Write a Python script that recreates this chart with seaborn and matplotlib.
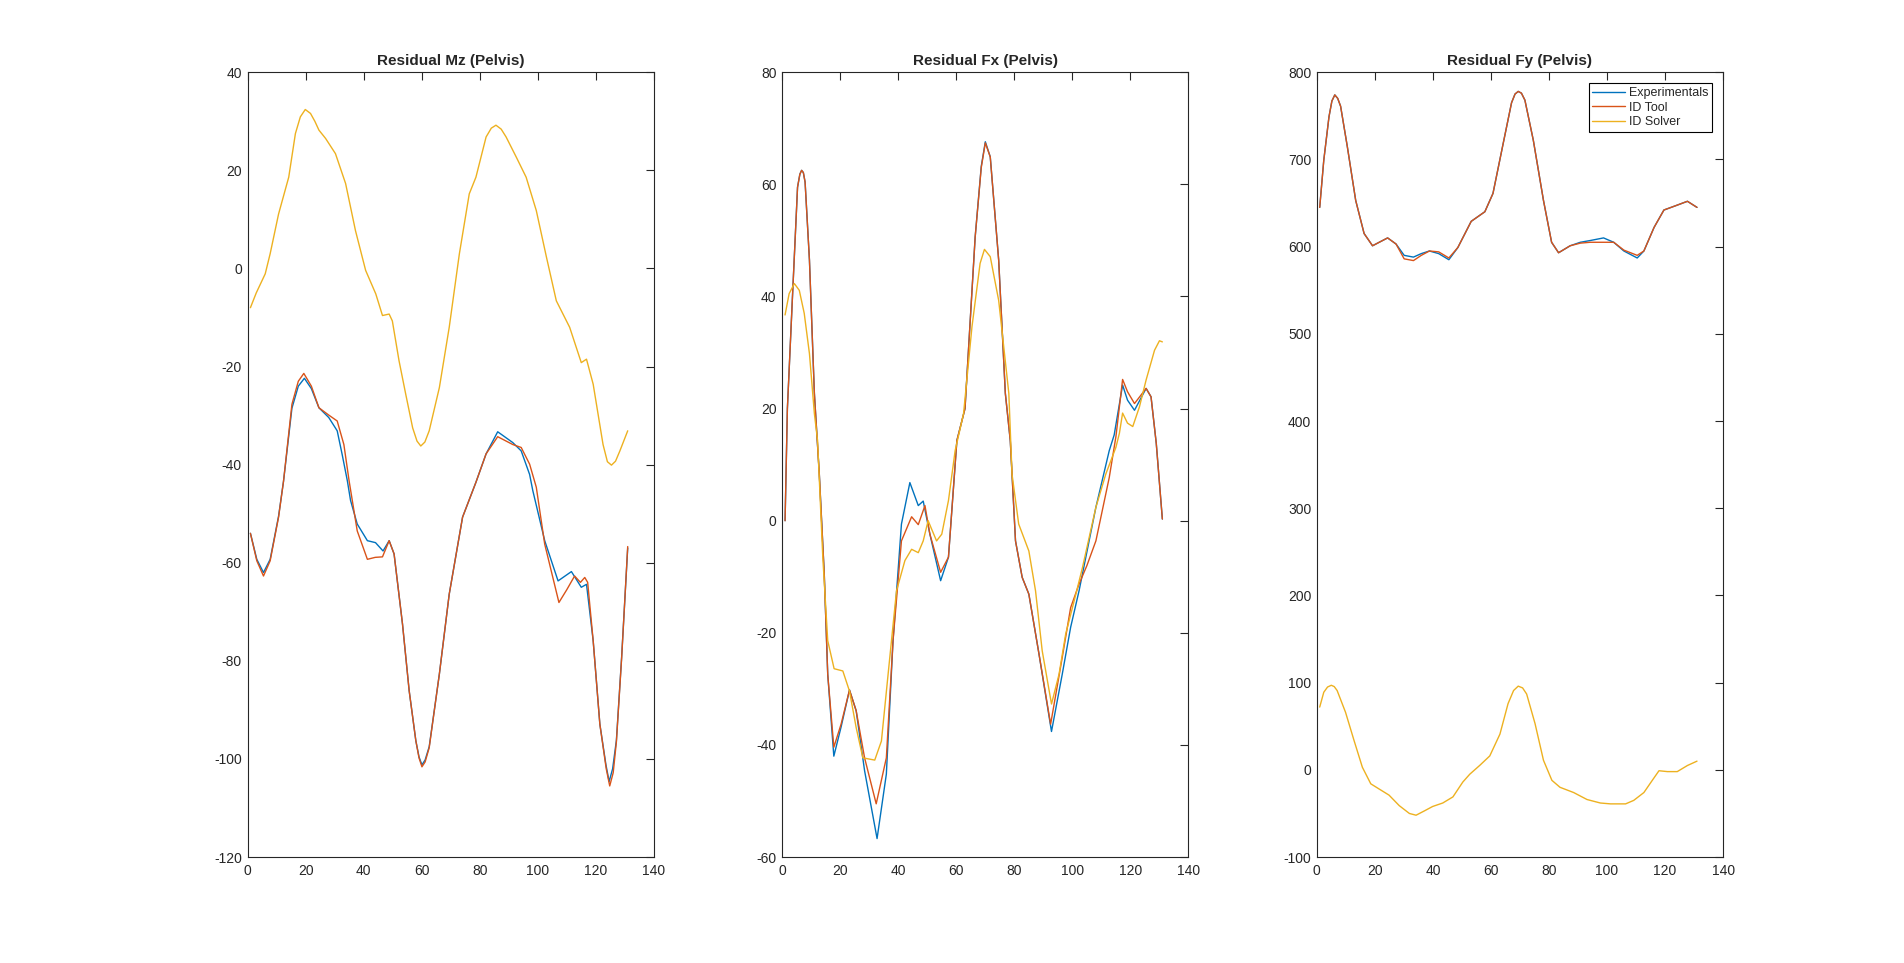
import matplotlib.pyplot as plt
import seaborn as sns

sns.set_style("white")
plt.rcParams["font.family"] = ["Liberation Sans", "DejaVu Sans"]
plt.rcParams["axes.unicode_minus"] = False

# Residual Mz (Pelvis)
mz_x_yellow = [1, 3, 6.1, 7.8, 10.7, 14.2, 16.5, 18.2, 19.9, 21.7, 23.2, 24.6, 26.9, 30.3, 33.8, 37.2,
               40.7, 44.2, 46.5, 48.8, 49.9, 52.2, 54.5, 56.9, 58.4, 59.7, 61.1, 62.6, 66.1, 69.5, 73,
               76.4, 78.7, 82.2, 84, 85.6, 87.4, 89.1, 92.6, 96, 99.5, 103, 106.4, 111, 115, 116.8,
               119.1, 122.5, 124, 125.4, 126.8, 128.3, 131]
mz_yellow = [-8, -5, -1.1, 3, 11.1, 18.6, 27.5, 30.9, 32.4, 31.6, 30, 28.2, 26.5, 23.4, 17.3, 7.7,
             -0.4, -5.2, -9.6, -9.3, -10.7, -18.8, -25.6, -32.5, -35.2, -36.2, -35.4, -33.1, -24.3, -12,
             3, 15.2, 18.6, 26.8, 28.6, 29.2, 28.4, 26.8, 22.7, 18.6, 11.8, 2.3, -6.6, -12, -19.2,
             -18.5, -23.6, -35.9, -39.4, -40.1, -39.3, -37.2, -33.1]

mz_x_blue = [1, 3.2, 5.5, 7.8, 10.7, 12.4, 15.3, 17.5, 19.6, 22, 24.6, 28, 30.9, 32.6, 34.4, 35.5,
             37.8, 41.3, 44.1, 46.7, 48.8, 50.5, 53.4, 55.7, 58, 59.1, 60.1, 61.2, 62.6, 66.1, 69.5,
             74.1, 78.7, 82.2, 86.2, 91.4, 94.3, 97.2, 98.3, 102.4, 107, 111.6, 115, 116.8, 119.1,
             121.4, 123.5, 124.6, 125.8, 127.1, 128.9, 131]
mz_blue = [-54, -59.3, -62, -59.3, -50.5, -43.4, -28.5, -24, -22.4, -24.5, -28.4, -30.4, -33.1, -37.9,
           -43.3, -47.3, -52.1, -55.5, -55.9, -57.6, -55.5, -58.2, -72.5, -86.1, -96.3, -99.6, -101.2,
           -100.2, -97.5, -82.7, -66.4, -50.7, -43.6, -37.8, -33.3, -35.5, -37.2, -42, -45.3, -55.5,
           -63.7, -61.8, -65, -64.4, -75.9, -92.9, -101.2, -104.6, -102, -96.2, -79.3, -57]

mz_x_red = [1, 3.2, 5.5, 7.8, 10.7, 12.4, 15.3, 17.5, 19.4, 22, 24.6, 28, 30.9, 33.2, 35, 36.1, 37.8,
            41.3, 44, 46.5, 48.8, 50.5, 53.4, 55.7, 58, 59.1, 60.1, 61.2, 62.6, 66.1, 69.5, 74.1, 78.7,
            82.2, 86.2, 91.4, 94.3, 97.2, 99.5, 102.4, 107.3, 110, 112.7, 114.7, 116.2, 117.2, 119.1,
            121.4, 123.6, 124.8, 126, 127.1, 128.9, 131]
mz_red = [-54, -59.6, -62.7, -59.6, -50.7, -43.4, -27.7, -23, -21.4, -24, -28.4, -29.9, -31.1, -35.9,
          -43.3, -47.3, -53.5, -59.3, -58.9, -58.8, -55.5, -58.2, -72.5, -86.1, -96.3, -99.8, -101.6,
          -100.6, -97.7, -82.7, -66.4, -50.7, -43.6, -37.8, -34.3, -35.9, -36.5, -39.9, -44.6, -56.2,
          -68.1, -65.5, -62.7, -64, -63, -64, -75.9, -92.9, -102, -105.5, -102.8, -96.5, -79.5, -56.7]

# Residual Fx (Pelvis)
fx_x_red = [1, 1.8, 3.6, 5.3, 6.1, 6.7, 7.3, 7.9, 9.4, 11.1, 12.8, 14.5, 15.7, 17.8, 20.3, 23.2, 25.5,
            28.4, 32.4, 35.9, 38.2, 41.1, 44.6, 46.9, 49.2, 50.9, 54.6, 57.3, 60.2, 63, 66.5, 68.6, 70,
            71.7, 74.6, 76.9, 78.6, 80.4, 82.7, 85, 88.5, 92.5, 96.5, 99.4, 102.3, 105, 108.1, 112.7,
            115, 117.3, 119, 121.4, 125.4, 127.1, 128.9, 131]
fx_red = [0, 20, 40.5, 59.5, 61.8, 62.5, 62.1, 60.4, 46.5, 22.7, 8.3, -9.5, -27.4, -40.4, -36.3, -30.2,
          -33.9, -42.3, -50.5, -42.3, -21.4, -3.6, 0.7, -0.7, 2.7, -2.4, -9.2, -6.5, 14.3, 20, 50.6,
          63, 67.4, 64.9, 46.5, 22.7, 14.3, -3.6, -10.1, -13.1, -23.8, -36.3, -24.4, -15.5, -11.3, -8,
          -3.6, 7.7, 15, 25.2, 23, 20.9, 23.6, 22.1, 13.8, 0.3]

fx_x_blue = [1, 1.8, 3.6, 5.3, 6.1, 6.7, 7.3, 7.9, 9.4, 11.1, 12.8, 14.5, 15.7, 17.8, 20.3, 23.2, 25.5,
             28.4, 32.7, 35.9, 38.2, 41.1, 44, 46.9, 48.6, 50.9, 54.6, 57.3, 60.2, 63, 66.5, 68.6, 70,
             71.7, 74.6, 76.9, 78.6, 80.4, 82.7, 85, 88.5, 92.8, 96.5, 99.4, 102.3, 108.1, 112.7, 114.4,
             117.3, 119, 121.4, 125.4, 127.1, 128.9, 131]
fx_blue = [0, 20, 40.5, 59.5, 61.8, 62.5, 62.1, 60.4, 46.5, 22.7, 8.3, -9.5, -27.4, -42, -36.8, -30.2,
           -33.9, -44.6, -56.7, -45.2, -21.4, -0.6, 6.8, 2.7, 3.5, -2.4, -10.7, -6.5, 14.3, 20, 50.6,
           63.2, 67.6, 64.9, 46.5, 22.7, 14.3, -3.6, -10.1, -13.1, -23.8, -37.6, -27.4, -19, -12.5, 2.4,
           12.5, 15.3, 24.2, 21.5, 19.7, 23.6, 22.1, 13.8, 0.3]

fx_x_yellow = [1, 2.4, 4.2, 5.9, 7.6, 9.4, 11.1, 12.2, 14, 15.7, 17.9, 20.9, 23.2, 25.5, 27.8, 31.9,
               34.2, 36.5, 39.4, 42.3, 44.6, 46.9, 48.6, 50.3, 51.5, 53.2, 55, 57.3, 59.6, 62.5, 65.4,
               68.2, 69.7, 71.7, 74.6, 78.1, 79.2, 81.5, 85, 87.3, 89.6, 92.8, 95.4, 97.7, 101.2, 103.5,
               108.1, 111.5, 115, 116.2, 117.3, 119, 120.8, 123.1, 125.4, 128.3, 130, 131]
fx_yellow = [36.7, 40.5, 42.3, 41.1, 37, 29.8, 19.1, 14.3, -6.5, -21.4, -26.4, -26.8, -30.4, -36.9,
             -42.3, -42.7, -39.3, -27.4, -12.5, -7.1, -5.1, -5.7, -3.6, 0, -1.5, -3.6, -2.4, 3.6, 12.5,
             19.1, 34.6, 45.9, 48.4, 47.1, 39.3, 22.7, 8.3, -0.6, -5.4, -12.5, -23.2, -32.7, -27.4,
             -20.2, -13.1, -8.3, 2.4, 8.3, 13.1, 15.6, 19.2, 17.4, 16.8, 20.3, 25.1, 30.4, 32.1, 31.9]

# Residual Fy (Pelvis)
fy_x = [1, 2.4, 4.2, 5.2, 6.2, 7.2, 8.2, 10.5, 13.4, 16.3, 19.2, 21.5, 24.4, 27.3, 30.1, 33.3, 36,
        38.8, 42, 45.5, 48.6, 53.2, 57.9, 60.7, 64.2, 67.1, 68.3, 69.4, 70.5, 71.7, 74.6, 78.1, 80.9,
        83.3, 87.3, 90.8, 94.2, 98.8, 102.3, 105.8, 110.4, 112.7, 116.2, 119.6, 123.7, 127.7, 131]
fy_blue = [645, 699, 749, 767, 774, 770, 761, 715, 653, 615, 601, 605, 610, 603, 590, 588, 592, 595,
           592, 585, 599, 629, 640, 661, 718, 765, 775, 778, 776, 768, 722, 653, 605, 593, 601, 605,
           607, 610, 605, 595, 587, 595, 622, 642, 647, 652, 645]
fy_red = [645, 699, 749, 767, 774, 770, 761, 715, 653, 615, 601, 605, 610, 603, 586, 584, 590, 595,
          594, 587, 599, 629, 640, 661, 718, 765, 775, 778, 776, 768, 722, 653, 605, 593, 601, 604,
          605, 605, 605, 596, 590, 595, 622, 642, 647, 652, 645]

fy_x_yellow = [1, 2.4, 3.7, 5, 6, 7, 9.9, 12.8, 15.7, 18.6, 21.5, 24.9, 28.4, 31.9, 34.2, 37.1, 39.9,
               43.4, 46.9, 50.3, 52.7, 56.1, 59.6, 63.1, 65.9, 67.8, 69.4, 70.9, 72.3, 75.2, 78.1, 81,
               83.8, 88.5, 93.1, 97.7, 101.2, 106.4, 109.2, 112.7, 115.6, 117.9, 120.8, 124.2, 127.7,
               131]
fy_yellow = [72, 89, 95, 97, 95.5, 91, 66, 34, 3, -16, -22, -29, -41, -50, -52, -47, -42, -38, -31,
             -14, -5, 5, 16, 41, 76, 91, 96, 94, 87, 53, 11, -12, -20, -26, -34, -38, -39, -39, -35,
             -26, -12, -1, -2, -2, 5, 10]

titles = ["Residual Mz (Pelvis)", "Residual Fx (Pelvis)", "Residual Fy (Pelvis)"]
labels = ["Experimentals", "ID Tool", "ID Solver"]

blue = "#0072BD"
red = "#D95319"
yellow = "#EDB120"
axcol = "#262626"

panels = [
    [(mz_x_blue, mz_blue), (mz_x_red, mz_red), (mz_x_yellow, mz_yellow)],
    [(fx_x_blue, fx_blue), (fx_x_red, fx_red), (fx_x_yellow, fx_yellow)],
    [(fy_x, fy_blue), (fy_x, fy_red), (fy_x_yellow, fy_yellow)],
]
ylims = [(-120, 40, 20), (-60, 80, 20), (-100, 800, 100)]
lefts = [0.13, 0.4108, 0.6916]

fig = plt.figure(figsize=(19.04, 9.63), dpi=100)

for i in range(3):
    ax = fig.add_axes([lefts[i], 0.11, 0.2134, 0.815])
    for (xs, ys), col, lab in zip(panels[i], [blue, red, yellow], labels):
        sns.lineplot(x=xs, y=ys, color=col, linewidth=1.0, label=lab, ax=ax)

    lo, hi, step = ylims[i]
    ax.set_xlim(0, 140)
    ax.set_ylim(lo, hi)
    ax.set_xticks(range(0, 141, 20))
    ax.set_yticks(range(lo, hi + 1, step))
    ax.tick_params(direction="in", top=True, right=True, length=6, width=0.8,
                   color=axcol, labelcolor=axcol, labelsize=10)
    ax.tick_params(axis="x", pad=5)
    ax.tick_params(axis="y", pad=4)
    for s in ax.spines.values():
        s.set_color(axcol)
        s.set_linewidth(0.8)
    ax.set_title(titles[i], fontsize=11, fontweight="bold", pad=5)
    ax.set_xlabel("")
    ax.set_ylabel("")

    if i < 2:
        if ax.get_legend() is not None:
            ax.get_legend().remove()
    else:
        leg = ax.legend(loc="upper right", fontsize=9, frameon=True, fancybox=False,
                        framealpha=1, edgecolor="black", handlelength=2.6,
                        handletextpad=0.3, labelspacing=0.2, borderpad=0.3,
                        borderaxespad=0.9)
        leg.get_frame().set_linewidth(0.8)

fig.savefig("out.png", dpi=100)
